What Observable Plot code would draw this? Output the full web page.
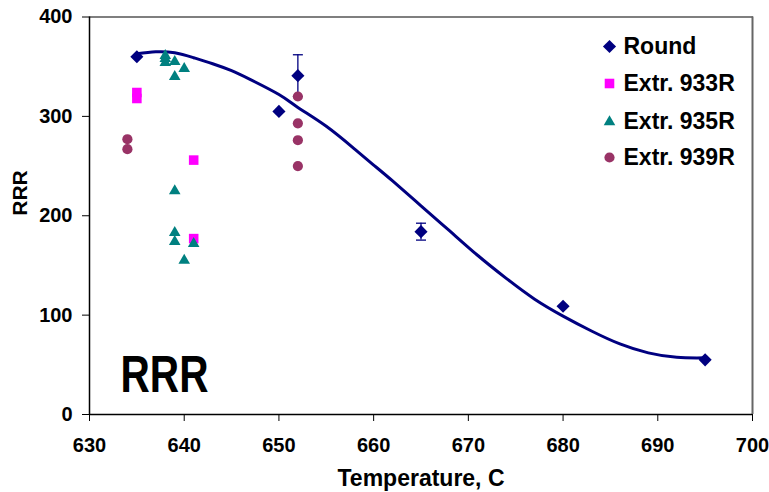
<!DOCTYPE html>
<html><head><meta charset="utf-8">
<script src="https://cdn.jsdelivr.net/npm/d3@7"></script>
<script src="https://cdn.jsdelivr.net/npm/@observablehq/plot@0.6"></script>
<style>body{margin:0;background:#fff} svg{font-family:"Liberation Sans",Arial,sans-serif}</style>
</head><body><div id="chart"></div>
<script>
const series = ["Round", "Extr. 933R", "Extr. 935R", "Extr. 939R"];
const colors = ["#000080", "#ff00ff", "#008080", "#993366"];
const symbols = ["diamond2", "square", "triangle", "circle"];
const radii = [5.9, 5.4, 4.3, 5.1];

const roundT = [635, 650, 652, 665, 680, 695];
const roundV = [360, 305, 341, 184, 109, 55];
const roundErr = [0, 0, 21, 8.5, 0, 0];

const e933T = [635, 635, 641, 641];
const e933V = [324, 318, 256, 177];

const e935T = [638, 638, 638, 639, 640, 639, 639, 639, 639, 641, 640];
const e935V = [361, 358, 354, 355, 348, 340, 225, 183, 174, 172, 155];

const e939T = [634, 634, 652, 652, 652, 652];
const e939V = [277, 267, 320, 293, 276, 250];

const fitT = [635, 637, 639, 641, 643, 645, 647, 650, 652, 655, 658, 660, 662, 665, 668, 671, 674, 677, 680, 683, 686, 689, 692, 695];
const fitV = [363, 365, 364, 359, 353, 346, 337, 322, 309, 290, 267, 251, 235, 210, 185, 160, 137, 116, 99, 84, 71, 62, 57.5, 57];

const xTicks = [630, 640, 650, 660, 670, 680, 690, 700];
const yTicks = [0, 100, 200, 300, 400];
const xTitle = "Temperature, C";
const yTitle = "RRR";
const bigLabel = "RRR";
const legendRowY = [46, 83, 121.5, 157];

const toRows = (T, V) => T.map((t, i) => ({t, v: V[i]}));
const groups = [
  toRows(roundT, roundV),
  toRows(e933T, e933V),
  toRows(e935T, e935V),
  toRows(e939T, e939V)
];
const fit = toRows(fitT, fitV);
const errRows = roundT.map((t, i) => ({t, v: roundV[i], e: roundErr[i]})).filter(d => d.e > 0);
const caps = errRows.flatMap(d => [{t: d.t, v: d.v - d.e}, {t: d.t, v: d.v + d.e}]);
const capSymbol = {draw(ctx) { ctx.moveTo(-5, 0); ctx.lineTo(5, 0); }};

const W = 769, H = 492;
const mL = 89, mR = 17, mT = 16.5, mB = 78;

const legendMarks = series.flatMap((s, i) => [
  Plot.dot([s], {frameAnchor: "top-left", dx: 609 - mL, dy: legendRowY[i] - mT, symbol: symbols[i], fill: colors[i], r: radii[i], stroke: "none"}),
  Plot.text([s], {frameAnchor: "top-left", dx: 623 - mL, dy: legendRowY[i] - mT, text: d => d, textAnchor: "start", lineAnchor: "middle", fontSize: 23, fontWeight: "bold", fill: "#000"})
]);

const chart = Plot.plot({
  width: W, height: H,
  marginLeft: mL, marginRight: mR, marginTop: mT, marginBottom: mB,
  x: {domain: [630, 700]},
  y: {domain: [0, 400]},
  marks: [
    Plot.frame({stroke: "#000", strokeWidth: 1}),
    Plot.ruleX([xTicks[xTicks.length - 1]], {stroke: "#666", strokeWidth: 2}),
    Plot.axisX(xTicks, {tickSize: 7, tickPadding: 16, tickFormat: d => String(d), fontSize: 20, fontWeight: "bold", label: null, stroke: "#000", fill: "#000"}),
    Plot.axisY(yTicks, {tickSize: 7, tickPadding: 10, tickFormat: d => String(d), fontSize: 20, fontWeight: "bold", label: null, stroke: "#000", fill: "#000"}),
    Plot.ruleY([0], {stroke: "#000", strokeWidth: 1.5}),
    Plot.ruleX([xTicks[0]], {stroke: "#000", strokeWidth: 1.5}),
    Plot.text([xTitle], {frameAnchor: "bottom", dy: 64, text: d => d, lineAnchor: "middle", fontSize: 23, fontWeight: "bold", fill: "#000"}),
    Plot.text([yTitle], {frameAnchor: "left", dx: -69, text: d => d, rotate: -90, lineAnchor: "middle", fontSize: 21, fontWeight: "bold", fill: "#000"}),
    Plot.text([bigLabel], {className: "biglabel", frameAnchor: "bottom-left", dx: 31, dy: -38.5, text: d => d, textAnchor: "start", lineAnchor: "middle", fontSize: 51, fontWeight: "bold", fill: "#000"}),
    Plot.line(fit, {x: "t", y: "v", stroke: "#000080", strokeWidth: 3, curve: "natural"}),
    Plot.ruleX(errRows, {x: "t", y1: d => d.v - d.e, y2: d => d.v + d.e, stroke: "#000080", strokeWidth: 1.3}),
    Plot.dot(caps, {x: "t", y: "v", symbol: capSymbol, stroke: "#000080", strokeWidth: 1.3, fill: "none", r: 5}),
    ...groups.map((g, i) => Plot.dot(g, {x: "t", y: "v", symbol: symbols[i], fill: colors[i], r: radii[i], stroke: "none"})),
    ...legendMarks
  ]
});
d3.select(chart).selectAll(".biglabel text").attr("textLength", 88).attr("lengthAdjust", "spacingAndGlyphs");
document.getElementById("chart").append(chart);
</script></body></html>
